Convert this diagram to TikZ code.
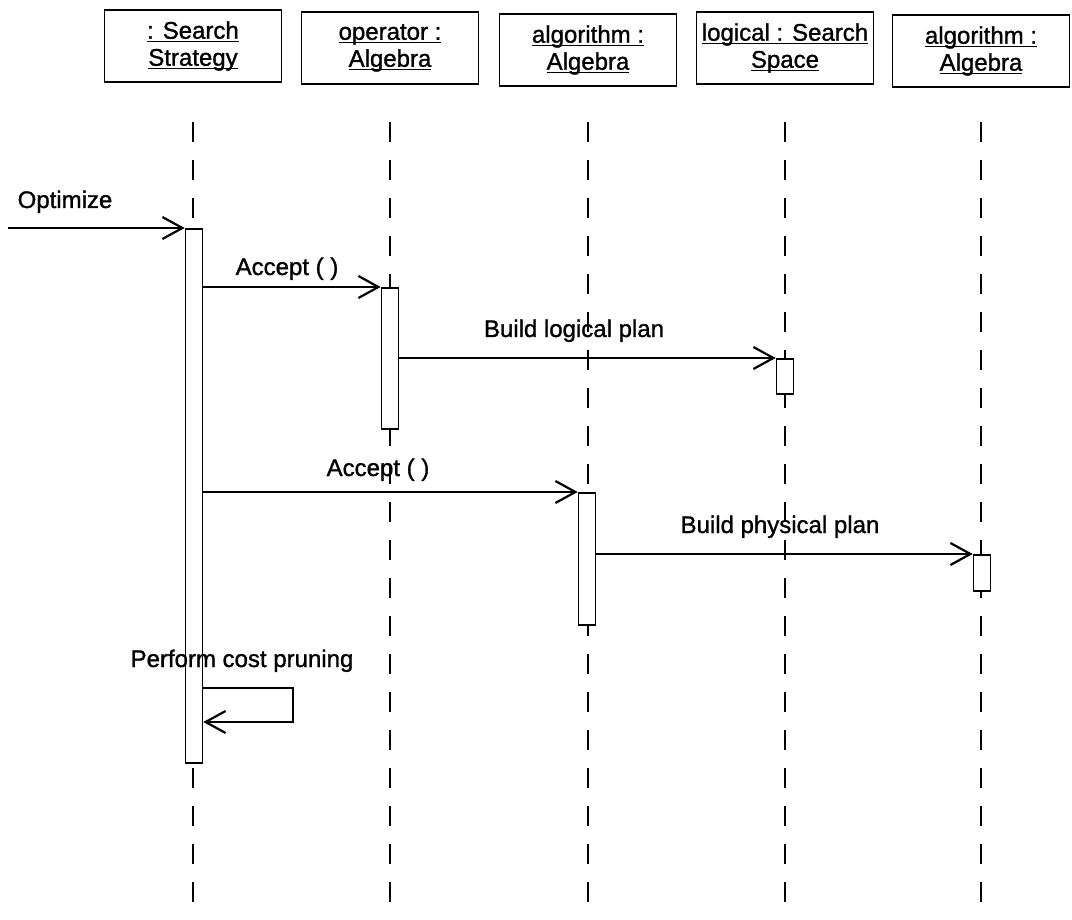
\documentclass[tikz,border=0pt]{standalone}
\usepackage{fontspec}
\setmainfont{Liberation Sans}[FakeBold=1.2]
\usetikzlibrary{arrows.meta}
% underlined object name with a heavier rule
\newcommand\objname[1]{\setbox0\hbox{#1}\rlap{\rule[-3.5pt]{\wd0}{1.7pt}}\box0}
\begin{document}
\begin{tikzpicture}[x=1pt,y=-1pt,
  every node/.style={font=\fontsize{24}{27}\selectfont},
  head/.style={draw, line width=1.6pt, minimum width=177pt, minimum height=72pt, align=center, inner sep=2pt},
  bar/.style={draw, fill=white, line width=1.6pt, minimum width=17pt, anchor=north, inner sep=0pt},
  life/.style={line width=1.8pt, dash pattern=on 20pt off 18pt},
  msg/.style={line width=1.7pt, -{Straight Barb[length=20pt,width=22pt,line width=2.2pt]}},
  lbl/.style={inner sep=0pt, anchor=base}
]
\useasboundingbox (0,0) rectangle (1072,920);

% object heads
\node[head] (h1) at (193,46) {\objname{: Search}\\\objname{Strategy}};
\node[head] (h2) at (390,48) {\objname{operator :}\\\objname{Algebra}};
\node[head] (h3) at (588,50) {\objname{algorithm :}\\\objname{Algebra}};
\node[head] (h4) at (785,48) {\objname{logical : Search}\\\objname{Space}};
\node[head] (h5) at (981,51) {\objname{algorithm :}\\\objname{Algebra}};

% lifelines
\foreach \h in {h1,h2,h3,h4,h5}
  \draw[life] (\h.south |- 0,122) -- (\h.south |- 0,920);

% activation bars
\node[bar, minimum height=534pt] (a1) at (194,228) {};
\node[bar, minimum height=141pt] (a2) at (390,287) {};
\node[bar, minimum height=35pt]  (a3) at (785,358) {};
\node[bar, minimum height=132pt] (a4) at (587,492) {};
\node[bar, minimum height=36pt]  (a5) at (982,554) {};

% incoming call
\coordinate (src) at (8,228);
\draw[msg] (src) -- (a1.north west);
\node[lbl] (lopt) at (65,208) {Optimize};

% messages
\draw[msg] (a1.east |- a2.north) -- (a2.north west);
\node[lbl] (lacc1) at (287,275) {Accept ( )};

\draw[msg] (a2.east |- a3.north) -- (a3.north west);
\node[lbl] (llog) at (574,337) {Build logical plan};

\draw[msg] (a1.east |- a4.north) -- (a4.north west);
\node[lbl] (lacc2) at (378,476) {Accept ( )};

\draw[msg] (a4.east |- a5.north) -- (a5.north west);
\node[lbl] (lphy) at (780,533) {Build physical plan};

% self call
\coordinate (pr) at (293,688);
\draw[msg] (a1.east |- pr) -- (pr) -- (pr |- 0,722) -- (a1.east |- 0,722);
\node[lbl] (lprune) at (242,667) {Perform cost pruning};
\end{tikzpicture}
\end{document}
